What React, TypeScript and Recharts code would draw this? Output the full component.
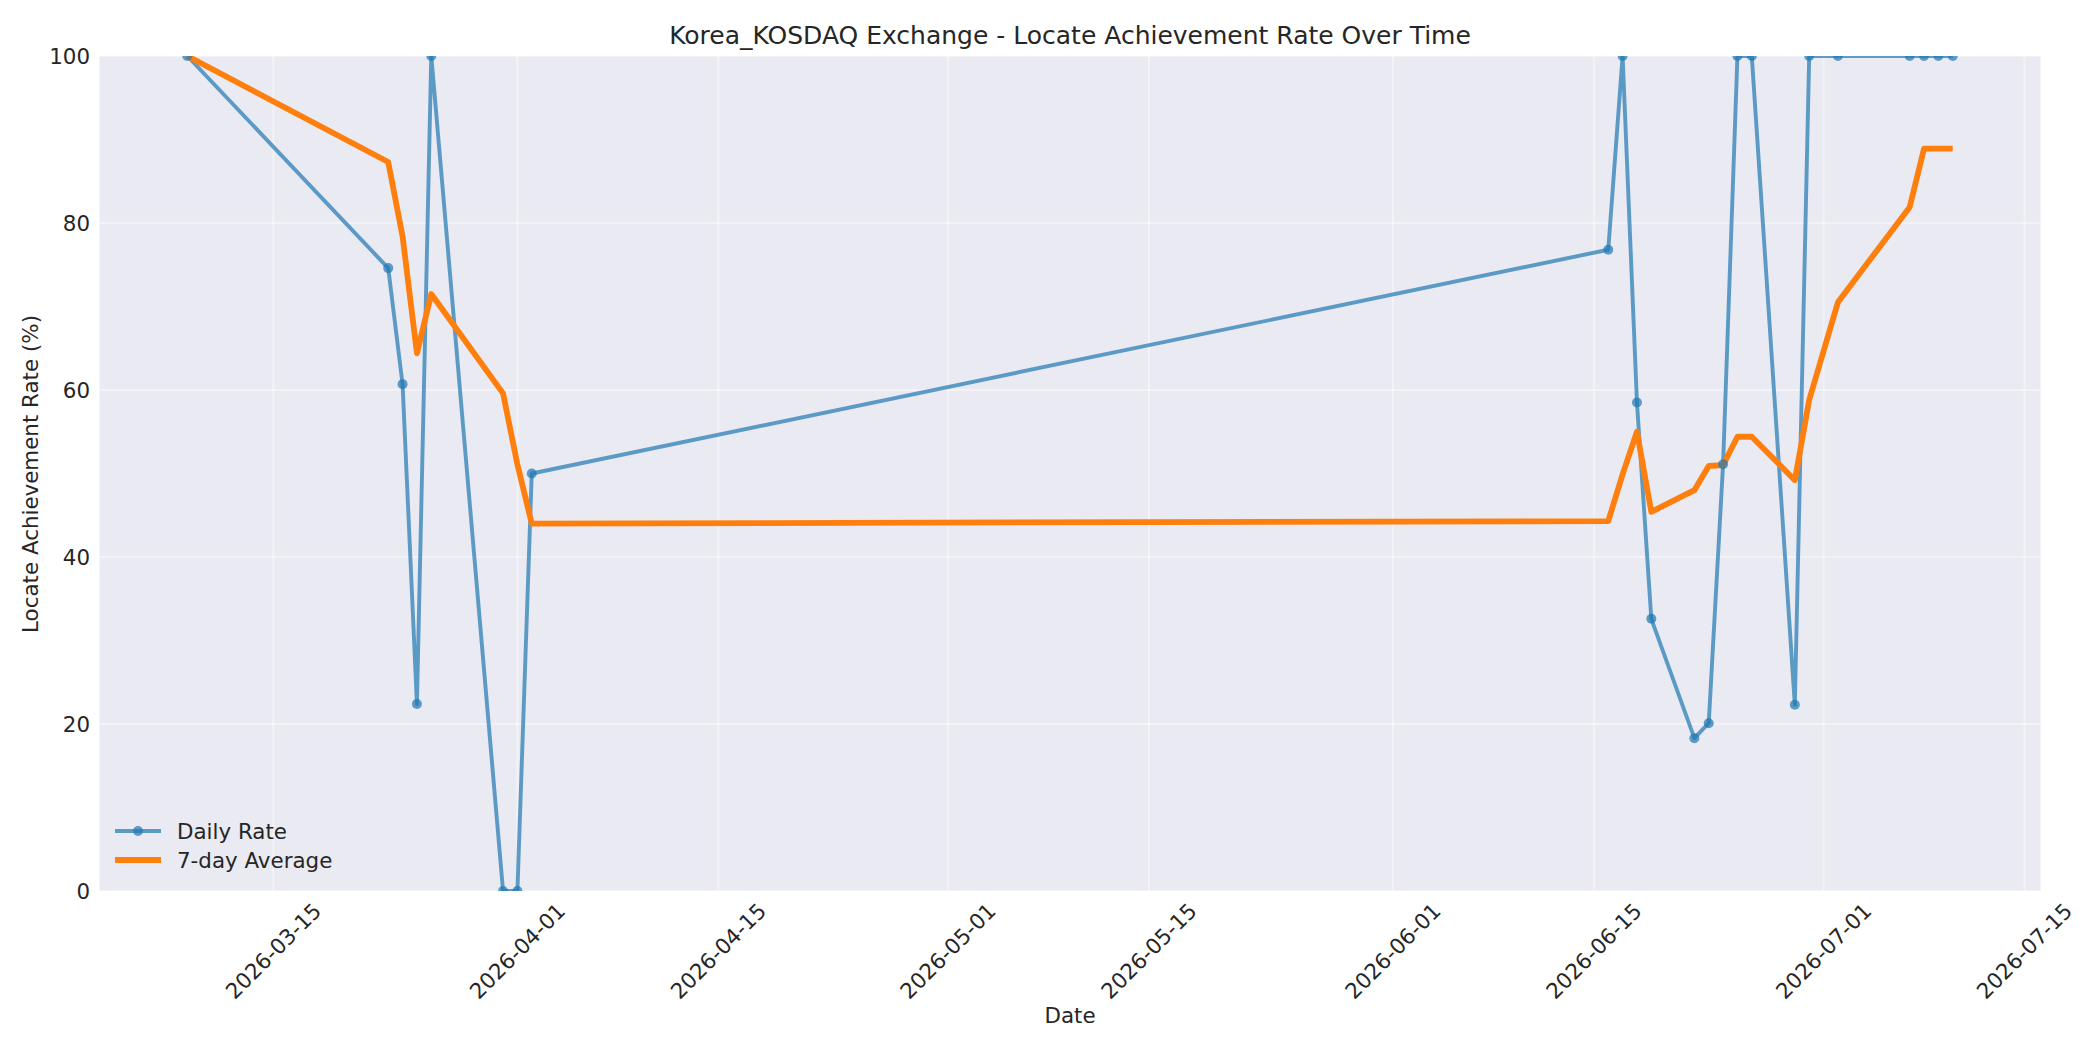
import { LineChart, Line, XAxis, YAxis, CartesianGrid } from "recharts";

const dates = [
  "2026-03-09", "2026-03-23", "2026-03-24", "2026-03-25", "2026-03-26", "2026-03-31",
  "2026-04-01", "2026-04-02", "2026-06-16", "2026-06-17", "2026-06-18", "2026-06-19",
  "2026-06-22", "2026-06-23", "2026-06-24", "2026-06-25", "2026-06-26", "2026-06-29",
  "2026-06-30", "2026-07-02", "2026-07-07", "2026-07-08", "2026-07-09", "2026-07-10",
];
const dailyRate = [
  100, 74.6, 60.7, 22.4, 100, 0,
  0, 50, 76.8, 100, 58.5, 32.6,
  18.3, 20.1, 51.1, 100, 100, 22.3,
  100, 100, 100, 100, 100, 100,
];
const sevenDayAvg = [
  100, 87.3, 78.4, 64.4, 71.5, 59.6,
  51.1, 44.0, 44.3, 49.9, 55.0, 45.4,
  48.0, 50.9, 51.0, 54.4, 54.4, 49.2,
  58.8, 70.5, 81.9, 88.9, 88.9, 88.9,
];
const xTickLabels = [
  "2026-03-15", "2026-04-01", "2026-04-15", "2026-05-01", "2026-05-15",
  "2026-06-01", "2026-06-15", "2026-07-01", "2026-07-15",
];
const yTicks = [0, 20, 40, 60, 80, 100];
const seriesNames = ["Daily Rate", "7-day Average"];

const toMs = (s: string) => {
  const [y, m, d] = s.split("-").map(Number);
  return Date.UTC(y, m - 1, d);
};
const fmt = (ms: number) => {
  const d = new Date(ms);
  const p = (n: number) => String(n).padStart(2, "0");
  return `${d.getUTCFullYear()}-${p(d.getUTCMonth() + 1)}-${p(d.getUTCDate())}`;
};

const data = dates.map((d, i) => ({ t: toMs(d), daily: dailyRate[i], avg: sevenDayAvg[i] }));
const first = toMs(dates[0]);
const last = toMs(dates[dates.length - 1]);
const pad = (last - first) * 0.05;
const xDomain = [first - pad, last + pad];

const FONT = "'DejaVu Sans', sans-serif";
const TEXT = "#262626";
const BLUE = "#1f77b4";
const ORANGE = "#ff7f0e";
const TICK_SIZE = 21.4;

const DateTick = (props: any) => {
  const { x, y, payload } = props;
  const cy = y + 60;
  return (
    <text
      x={x}
      y={cy}
      transform={`rotate(-45 ${x} ${cy})`}
      textAnchor="middle"
      dominantBaseline="central"
      fontSize={TICK_SIZE}
      fontFamily={FONT}
      fill={TEXT}
    >
      {fmt(payload.value)}
    </text>
  );
};

export default function App() {
  return (
    <div style={{ position: "relative", width: 2100, height: 1050, background: "#fff" }}>
      <style>{`body{margin:0}`}</style>
      <LineChart
        width={2100}
        height={1050}
        data={data}
        margin={{ top: 56, right: 59, bottom: 0, left: 39 }}
      >
        <CartesianGrid fill="#EAEAF2" stroke="#ffffff" strokeOpacity={0.4} strokeWidth={2} />
        <XAxis
          dataKey="t"
          type="number"
          scale="time"
          domain={xDomain}
          ticks={xTickLabels.map(toMs)}
          tick={<DateTick />}
          tickLine={false}
          axisLine={false}
          tickSize={0}
          tickMargin={0}
          height={159}
          allowDataOverflow
        />
        <YAxis
          type="number"
          domain={[0, 100]}
          ticks={yTicks}
          width={60}
          tickLine={false}
          axisLine={false}
          tickSize={0}
          tickMargin={9}
          tick={{ fontSize: TICK_SIZE, fontFamily: FONT, fill: TEXT }}
          allowDataOverflow
        />
        <Line
          dataKey="daily"
          name={seriesNames[0]}
          stroke={BLUE}
          strokeOpacity={0.7}
          strokeWidth={3.9}
          strokeLinejoin="round"
          dot={{ r: 5, fill: BLUE, fillOpacity: 0.7, stroke: "none" }}
          activeDot={false}
          isAnimationActive={false}
        />
        <Line
          dataKey="avg"
          name={seriesNames[1]}
          stroke={ORANGE}
          strokeWidth={5.8}
          strokeLinejoin="round"
          dot={false}
          activeDot={false}
          isAnimationActive={false}
        />
      </LineChart>
      <svg
        width={2100}
        height={1050}
        style={{ position: "absolute", left: 0, top: 0, pointerEvents: "none" }}
      >
        <text x={1070} y={44} textAnchor="middle" fontSize={25} fontFamily={FONT} fill={TEXT}>
          Korea_KOSDAQ Exchange - Locate Achievement Rate Over Time
        </text>
        <text x={1070} y={1023} textAnchor="middle" fontSize={21.4} fontFamily={FONT} fill={TEXT}>
          Date
        </text>
        <text
          x={38}
          y={474}
          transform="rotate(-90 38 474)"
          textAnchor="middle"
          fontSize={21.4}
          fontFamily={FONT}
          fill={TEXT}
        >
          Locate Achievement Rate (%)
        </text>
        <g>
          <line x1={115} y1={831} x2={161} y2={831} stroke={BLUE} strokeOpacity={0.7} strokeWidth={3.9} />
          <circle cx={138} cy={831} r={5} fill={BLUE} fillOpacity={0.7} />
          <text x={177} y={831} dominantBaseline="central" fontSize={TICK_SIZE} fontFamily={FONT} fill={TEXT}>
            {seriesNames[0]}
          </text>
          <line x1={115} y1={860} x2={161} y2={860} stroke={ORANGE} strokeWidth={5.8} />
          <text x={177} y={860} dominantBaseline="central" fontSize={TICK_SIZE} fontFamily={FONT} fill={TEXT}>
            {seriesNames[1]}
          </text>
        </g>
      </svg>
    </div>
  );
}
